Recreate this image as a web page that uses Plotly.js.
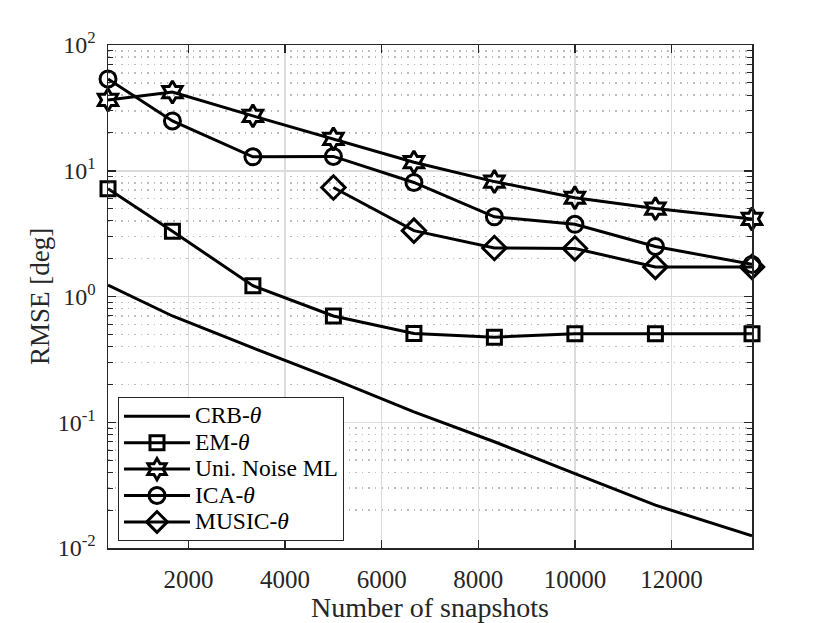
<!DOCTYPE html>
<html>
<head>
<meta charset="utf-8">
<script src="https://cdn.plot.ly/plotly-3.0.1.min.js"></script>
<style>
  html, body { margin: 0; padding: 0; background: #fff; }
  #myDiv { width: 830px; height: 623px; }
</style>
</head>
<body>
<div id="myDiv"></div>
<script>
// snapshots on the x axis, RMSE in degrees on the y axis
var snapshots = [333, 1667, 3333, 5000, 6667, 8333, 10000, 11667, 13667];
var crb   = [1.23, 0.70, 0.39, 0.22, 0.121, 0.070, 0.039, 0.0219, 0.0125];
var em    = [7.2, 3.3, 1.22, 0.70, 0.508, 0.475, 0.505, 0.505, 0.505];
var uniML = [36.6, 42.2, 27.3, 17.9, 11.7, 8.2, 6.1, 5.0, 4.14];
var ica   = [53.7, 24.9, 12.9, 13.0, 8.07, 4.3, 3.75, 2.5, 1.8];
var music = [null, null, null, 7.36, 3.34, 2.43, 2.41, 1.72, 1.72];

var yTickVals = [0.01, 0.1, 1, 10, 100];
var yTickText = ['10<sup>-2</sup>', '10<sup>-1</sup>', '10<sup>0</sup>', '10<sup>1</sup>', '10<sup>2</sup>'];

var serif = 'Liberation Serif, Times New Roman, serif',
    ink = '#000000',
    axisCol = '#262626';

// legend rows are spaced by the legend font, the text itself is a bit bigger
function big(s) {
  return '<span style="font-size:23.5px">' + s + '</span>';
}

function trace(y, name, symbol, size) {
  var t = {
    x: snapshots,
    y: y,
    name: big(name),
    type: 'scatter',
    mode: symbol ? 'lines+markers' : 'lines',
    line: {color: ink, width: 3},
    cliponaxis: false
  };
  if (symbol) {
    t.marker = {symbol: symbol, size: size, color: ink, line: {color: ink, width: 3}};
  }
  return t;
}

var data = [
  trace(crb, 'CRB-<i>θ</i>'),
  trace(em, 'EM-<i>θ</i>', 'square-open', 14),
  trace(uniML, 'Uni. Noise ML', 'hexagram-open', 17),
  trace(ica, 'ICA-<i>θ</i>', 'circle-open', 16),
  trace(music, 'MUSIC-<i>θ</i>', 'diamond-open', 18)
];

var layout = {
  width: 830,
  height: 623,
  margin: {l: 108, r: 78, t: 45, b: 75},
  paper_bgcolor: '#ffffff',
  plot_bgcolor: '#ffffff',
  font: {family: serif, size: 22, color: axisCol},
  showlegend: true,
  legend: {
    x: 0.0155, y: 0.300, xanchor: 'left', yanchor: 'top',
    bgcolor: '#ffffff', bordercolor: axisCol, borderwidth: 1,
    font: {family: serif, size: 18, color: ink},
    itemwidth: 66,
    tracegroupgap: 0
  },
  xaxis: {
    range: [333, 13667],
    tick0: 0, dtick: 2000, tickformat: 'd',
    showline: true, linecolor: axisCol, linewidth: 1.5, mirror: 'ticks',
    ticks: 'inside', ticklen: 8, tickwidth: 1.5, tickcolor: axisCol,
    showgrid: true, gridcolor: '#dcdcdc', gridwidth: 1.5,
    zeroline: false,
    ticklabelstandoff: 8,
    tickfont: {family: serif, size: 25, color: axisCol},
    title: {text: 'Number of snapshots', standoff: 3, font: {family: serif, size: 28, color: axisCol}}
  },
  yaxis: {
    type: 'log',
    range: [-2, 2],
    tickmode: 'array', tickvals: yTickVals, ticktext: yTickText,
    showline: true, linecolor: axisCol, linewidth: 1.5, mirror: 'ticks',
    ticks: 'inside', ticklen: 8, tickwidth: 1.5, tickcolor: axisCol,
    showgrid: true, gridcolor: '#dcdcdc', gridwidth: 1.5,
    zeroline: false,
    ticklabelstandoff: 6,
    tickfont: {family: serif, size: 24, color: axisCol},
    minor: {
      dtick: 'D1',
      ticks: 'inside', ticklen: 5, tickwidth: 1, tickcolor: axisCol,
      showgrid: true, gridcolor: '#bdbdbd', griddash: '1.5px,5px', gridwidth: 1.5
    },
    title: {text: 'RMSE [deg]', standoff: 0, font: {family: serif, size: 27, color: axisCol}}
  }
};

Plotly.newPlot('myDiv', data, layout, {staticPlot: true, displayModeBar: false});
</script>
</body>
</html>
